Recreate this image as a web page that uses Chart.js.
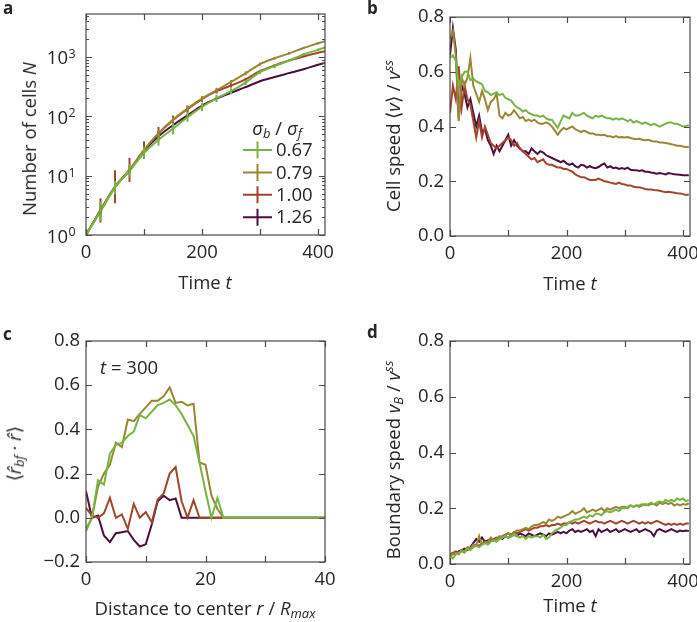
<!DOCTYPE html>
<html>
<head>
<meta charset="utf-8">
<script src="https://cdn.jsdelivr.net/npm/chart.js@4.4.1/dist/chart.umd.min.js"></script>
<style>
  html, body { margin: 0; background: #fff; overflow: hidden; }
  #fig { position: relative; width: 697px; height: 622px; overflow: hidden;
         font-family: 'Open Sans', sans-serif; color: #262626; }
  .panel { position: absolute; }
  .lbl { position: absolute; font-size: 18.5px; white-space: nowrap; line-height: 1.2;
         transform: translate(-50%, -50%); }
  .rot { transform: translate(-50%, -50%) rotate(-90deg); }
  .tag { position: absolute; font-weight: bold; font-size: 17px; line-height: 1; }
  sub, sup { font-size: 70%; line-height: 0; }
  sup { vertical-align: 0.55em; }
  sub { vertical-align: -0.25em; }
</style>
</head>
<body>
<div id="fig">
  <div class="panel" style="left:0;top:0"><canvas id="chartA" width="360" height="300"></canvas></div>
  <div class="panel" style="left:348px;top:0"><canvas id="chartB" width="370" height="300"></canvas></div>
  <div class="panel" style="left:0;top:300px"><canvas id="chartC" width="360" height="322"></canvas></div>
  <div class="panel" style="left:348px;top:300px"><canvas id="chartD" width="370" height="322"></canvas></div>

  <div class="tag" style="left:3px;top:-1px">a</div>
  <div class="tag" style="left:367px;top:-1px">b</div>
  <div class="tag" style="left:3px;top:325px">c</div>
  <div class="tag" style="left:367px;top:323px">d</div>

  <div class="lbl rot" style="left:29px;top:139px">Number of cells <i>N</i></div>
  <div class="lbl" style="left:205px;top:282px">Time <i>t</i></div>
  <div class="lbl" style="left:277px;top:128px"><i>σ<sub>b</sub></i> / <i>σ<sub>f</sub></i></div>

  <div class="lbl rot" style="left:393px;top:136px">Cell speed ⟨<i>v</i>⟩ / <i>v</i><sup><i>ss</i></sup></div>
  <div class="lbl" style="left:570px;top:283px">Time <i>t</i></div>

  <div class="lbl rot" style="left:14px;top:454px">⟨<i>r̂</i><sub><i>bf</i></sub> · <i>r̂</i>⟩</div>
  <div class="lbl" style="left:205px;top:608px">Distance to center <i>r</i> / <i>R<sub>max</sub></i></div>
  <div class="lbl" style="left:100px;top:367px;transform:translate(0,-50%)"><i>t</i> = 300</div>

  <div class="lbl rot" style="left:393px;top:460px">Boundary speed <i>v<sub>B</sub></i> / <i>v</i><sup><i>ss</i></sup></div>
  <div class="lbl" style="left:570px;top:605px">Time <i>t</i></div>
</div>

<script>
// ---- data ----
const ratioLabels = ['0.67', '0.79', '1.00', '1.26'];
const seriesColors = ['#78b443', '#9a8634', '#a3452c', '#4b0e3e'];

// panel a: number of cells
const tCells = [0, 25, 50, 75, 100, 125, 150, 175, 200, 225, 250, 275, 300, 325, 350, 375, 400, 412];
const cellsGreen  = [1, 2.5, 6.3, 12, 24, 40, 62, 97, 144, 200, 265, 370, 555, 700, 870, 1100, 1320, 1450];
const cellsOlive  = [1, 2.6, 6.5, 12.5, 27, 52, 88, 135, 200, 275, 380, 530, 760, 950, 1150, 1420, 1700, 1850];
const cellsRed    = [1, 2.6, 6.5, 12.5, 27, 51, 86, 132, 195, 265, 330, 420, 580, 720, 870, 1020, 1180, 1250];
const cellsPurple = [1, 2.6, 6.5, 12.3, 26, 46, 71, 104, 152, 200, 250, 310, 390, 460, 535, 620, 740, 790];
// relative error (bar spans v/(1+e) .. v*(1+e))
const errGreen  = [0, 0.45, 0.3, 0.3, 0.25, 0.25, 0.25, 0.2, 0.18, 0.15, 0.12, 0.1, 0.08, 0.08, 0.06, 0.06, 0.05, 0];
const errOlive  = [0, 0.3, 0.25, 0.2, 0.15, 0.12, 0.12, 0.12, 0.1, 0.1, 0.08, 0.08, 0.06, 0.05, 0.05, 0.04, 0.04, 0];
const errRed    = [0, 0.6, 0.9, 0.6, 0.4, 0.3, 0.2, 0.15, 0.12, 0.1, 0.08, 0.06, 0.05, 0.05, 0.04, 0.04, 0.03, 0];
const errPurple = [0, 0.2, 0.15, 0.1, 0.08, 0.06, 0.05, 0.04, 0.04, 0.03, 0.03, 0.03, 0.03, 0.02, 0.02, 0.02, 0.02, 0];

// panels b and d: time axis
const tSpeed = [
  0, 5, 10, 15, 20, 25, 30, 35, 40, 45,
  50, 55, 60, 65, 70, 75, 80, 85, 90, 95,
  100, 105, 110, 115, 120, 125, 130, 135, 140, 145,
  150, 155, 160, 165, 170, 175, 180, 185, 190, 195,
  200, 205, 210, 215, 220, 225, 230, 235, 240, 245,
  250, 255, 260, 265, 270, 275, 280, 285, 290, 295,
  300, 305, 310, 315, 320, 325, 330, 335, 340, 345,
  350, 355, 360, 365, 370, 375, 380, 385, 390, 395,
  400, 405, 410];

// panel b: cell speed
const speedGreen = [
  0.65, 0.66, 0.64, 0.55, 0.58, 0.60, 0.60, 0.57, 0.575, 0.565,
  0.56, 0.555, 0.53, 0.525, 0.515, 0.52, 0.525, 0.515, 0.52, 0.505,
  0.50, 0.495, 0.48, 0.47, 0.465, 0.455, 0.46, 0.45, 0.445, 0.44,
  0.44, 0.435, 0.44, 0.43, 0.425, 0.425, 0.41, 0.395, 0.42, 0.44,
  0.435, 0.43, 0.45, 0.44, 0.44, 0.445, 0.45, 0.44, 0.435, 0.43,
  0.44, 0.435, 0.44, 0.435, 0.43, 0.43, 0.425, 0.43, 0.425, 0.43,
  0.425, 0.42, 0.425, 0.415, 0.42, 0.415, 0.41, 0.415, 0.41, 0.405,
  0.41, 0.405, 0.40, 0.405, 0.41, 0.415, 0.415, 0.41, 0.41, 0.405,
  0.40, 0.402, 0.405];
const speedOlive = [
  0.72, 0.75, 0.66, 0.42, 0.58, 0.55, 0.58, 0.65, 0.55, 0.52,
  0.49, 0.53, 0.50, 0.46, 0.49, 0.50, 0.52, 0.44, 0.43, 0.45,
  0.44, 0.445, 0.46, 0.445, 0.43, 0.435, 0.42, 0.425, 0.42, 0.425,
  0.415, 0.41, 0.41, 0.415, 0.41, 0.40, 0.385, 0.37, 0.385, 0.395,
  0.39, 0.395, 0.40, 0.39, 0.385, 0.38, 0.385, 0.38, 0.375, 0.375,
  0.37, 0.37, 0.368, 0.37, 0.365, 0.365, 0.36, 0.365, 0.36, 0.362,
  0.36, 0.362, 0.358, 0.355, 0.354, 0.355, 0.352, 0.35, 0.352, 0.348,
  0.345, 0.345, 0.342, 0.342, 0.34, 0.338, 0.335, 0.333, 0.33, 0.33,
  0.327, 0.325, 0.325];
const speedRed = [
  0.45, 0.55, 0.50, 0.62, 0.47, 0.55, 0.50, 0.48, 0.42, 0.36,
  0.42, 0.36, 0.40, 0.37, 0.34, 0.33, 0.32, 0.33, 0.34, 0.35,
  0.36, 0.35, 0.33, 0.34, 0.32, 0.31, 0.30, 0.29, 0.28, 0.285,
  0.27, 0.275, 0.28, 0.265, 0.26, 0.26, 0.255, 0.25, 0.25, 0.245,
  0.245, 0.24, 0.235, 0.225, 0.22, 0.215, 0.215, 0.21, 0.205, 0.205,
  0.205, 0.21, 0.205, 0.20, 0.198, 0.195, 0.193, 0.19, 0.195, 0.19,
  0.188, 0.185, 0.185, 0.18, 0.178, 0.178, 0.175, 0.172, 0.17, 0.17,
  0.168, 0.167, 0.165, 0.163, 0.16, 0.162, 0.16, 0.158, 0.156, 0.155,
  0.153, 0.15, 0.152];
const speedPurple = [
  0.66, 0.76, 0.68, 0.43, 0.55, 0.52, 0.47, 0.50, 0.45, 0.40,
  0.44, 0.38, 0.39, 0.35, 0.33, 0.30, 0.33, 0.31, 0.33, 0.35,
  0.37, 0.33, 0.35, 0.33, 0.32, 0.31, 0.31, 0.30, 0.32, 0.31,
  0.30, 0.31, 0.305, 0.295, 0.29, 0.285, 0.28, 0.275, 0.27, 0.275,
  0.265, 0.26, 0.265, 0.255, 0.25, 0.26, 0.258, 0.25, 0.255, 0.25,
  0.248, 0.252, 0.26, 0.265, 0.25, 0.255, 0.248, 0.25, 0.245, 0.248,
  0.245, 0.25, 0.242, 0.24, 0.24, 0.238, 0.24, 0.235, 0.235, 0.232,
  0.23, 0.228, 0.23, 0.228, 0.225, 0.23, 0.228, 0.226, 0.225, 0.224,
  0.222, 0.222, 0.222];

// panel c: alignment vs distance, t = 300
const rDist = [0, 1, 2, 3, 4, 5, 6, 7, 8, 9, 10, 11, 12, 13, 14, 15, 16, 17, 18, 19, 20,
  21, 22, 23, 24, 25, 26, 27, 28, 29, 30, 31, 32, 33, 34, 35, 36, 37, 38, 39, 40];
const alignGreen = [-0.06, 0.0, 0.17, 0.15, 0.29, 0.33, 0.34, 0.37, 0.39, 0.465, 0.45,
  0.48, 0.51, 0.52, 0.535, 0.51, 0.47, 0.42, 0.37, 0.25, 0.12, 0.0, 0.09, 0.0,
  0, 0, 0, 0, 0, 0, 0, 0, 0, 0, 0, 0, 0, 0, 0, 0, 0];
const alignOlive = [-0.05, 0.0, 0.14, 0.2, 0.24, 0.34, 0.32, 0.445, 0.437, 0.47, 0.5,
  0.53, 0.53, 0.55, 0.59, 0.52, 0.525, 0.508, 0.516, 0.25, 0.24, 0.1, 0.04, 0.0,
  0, 0, 0, 0, 0, 0, 0, 0, 0, 0, 0, 0, 0, 0, 0, 0, 0];
const alignRed = [0.045, 0.01, 0.0, 0.02, 0.09, 0.0, 0.015, -0.05, 0.063, 0.0, 0.026,
  -0.02, 0.083, 0.11, 0.2, 0.23, 0.075, 0.0, 0.08, 0.0, 0,
  0, 0, 0, 0, 0, 0, 0, 0, 0, 0, 0, 0, 0, 0, 0, 0, 0, 0, 0, 0];
const alignPurple = [0.12, 0.0, 0.01, -0.08, -0.11, -0.07, -0.065, -0.06, -0.1, -0.13, -0.12,
  -0.03, 0.075, 0.1, 0.08, 0.087, 0.0, 0, 0, 0, 0,
  0, 0, 0, 0, 0, 0, 0, 0, 0, 0, 0, 0, 0, 0, 0, 0, 0, 0, 0, 0];

// panel d: boundary speed
const bndGreen = [
  0.03, 0.02, 0.035, 0.04, 0.045, 0.04, 0.055, 0.05, 0.06, 0.065,
  0.06, 0.07, 0.075, 0.07, 0.08, 0.085, 0.08, 0.09, 0.095, 0.1,
  0.095, 0.1, 0.105, 0.1, 0.095, 0.1, 0.09, 0.1, 0.095, 0.1,
  0.1, 0.095, 0.105, 0.09, 0.095, 0.11, 0.12, 0.125, 0.13, 0.14,
  0.14, 0.15, 0.155, 0.16, 0.16, 0.165, 0.17, 0.165, 0.175, 0.17,
  0.18, 0.18, 0.175, 0.185, 0.19, 0.185, 0.19, 0.195, 0.19, 0.2,
  0.2, 0.205, 0.21, 0.205, 0.21, 0.21, 0.215, 0.21, 0.215, 0.22,
  0.215, 0.22, 0.225, 0.22, 0.23, 0.225, 0.23, 0.225, 0.235, 0.23,
  0.235, 0.225, 0.23];
const bndOlive = [
  0.03, 0.035, 0.04, 0.035, 0.05, 0.045, 0.06, 0.055, 0.07, 0.065,
  0.1, 0.07, 0.075, 0.08, 0.095, 0.085, 0.09, 0.1, 0.095, 0.105,
  0.11, 0.1, 0.115, 0.12, 0.12, 0.125, 0.13, 0.125, 0.135, 0.14,
  0.14, 0.145, 0.15, 0.145, 0.16, 0.155, 0.16, 0.17, 0.165, 0.17,
  0.175, 0.18, 0.19, 0.18, 0.185, 0.19, 0.2, 0.185, 0.19, 0.195,
  0.19, 0.195, 0.2, 0.19, 0.2, 0.195, 0.2, 0.205, 0.2, 0.205,
  0.205, 0.2, 0.21, 0.205, 0.21, 0.205, 0.21, 0.215, 0.21, 0.215,
  0.215, 0.21, 0.22, 0.215, 0.22, 0.215, 0.22, 0.21, 0.215, 0.21,
  0.215, 0.213, 0.218];
const bndRed = [
  0.035, 0.04, 0.045, 0.04, 0.05, 0.045, 0.06, 0.055, 0.065, 0.07,
  0.065, 0.075, 0.08, 0.075, 0.085, 0.09, 0.095, 0.09, 0.1, 0.105,
  0.11, 0.105, 0.115, 0.11, 0.115, 0.12, 0.125, 0.12, 0.125, 0.13,
  0.13, 0.135, 0.135, 0.14, 0.135, 0.14, 0.14, 0.145, 0.14, 0.145,
  0.145, 0.15, 0.145, 0.15, 0.145, 0.15, 0.155, 0.15, 0.145, 0.15,
  0.155, 0.15, 0.15, 0.145, 0.15, 0.155, 0.15, 0.145, 0.15, 0.155,
  0.15, 0.145, 0.15, 0.155, 0.15, 0.145, 0.15, 0.145, 0.15, 0.145,
  0.15, 0.155, 0.15, 0.145, 0.14, 0.145, 0.14, 0.145, 0.14, 0.145,
  0.14, 0.145, 0.145];
const bndPurple = [
  0.03, 0.04, 0.035, 0.045, 0.05, 0.055, 0.05, 0.06, 0.075, 0.09,
  0.08, 0.095, 0.08, 0.085, 0.09, 0.085, 0.09, 0.095, 0.09, 0.1,
  0.095, 0.1, 0.105, 0.1, 0.11, 0.105, 0.1, 0.11, 0.105, 0.1,
  0.105, 0.11, 0.105, 0.1, 0.11, 0.105, 0.11, 0.115, 0.11, 0.115,
  0.11, 0.12, 0.125, 0.115, 0.12, 0.115, 0.12, 0.125, 0.115, 0.12,
  0.1, 0.125, 0.115, 0.12, 0.125, 0.115, 0.12, 0.125, 0.115, 0.12,
  0.125, 0.12, 0.115, 0.12, 0.125, 0.115, 0.12, 0.125, 0.12, 0.115,
  0.1, 0.12, 0.125, 0.12, 0.115, 0.12, 0.125, 0.12, 0.115, 0.12,
  0.118, 0.12, 0.118];

// tick values
const timeTicks = [0, 100, 200, 300, 400];
const distTicks = [0, 10, 20, 30, 40];
const speedTicks = [0, 0.2, 0.4, 0.6, 0.8];
const alignTicks = [-0.2, 0, 0.2, 0.4, 0.6, 0.8];
const decadeTicks = [1, 10, 100, 1000];

// ---- styling / helpers ----
const TEXT = '#262626';
const AXIS = '#4a4a4a';
const FONT = "'Open Sans', sans-serif";
Chart.defaults.font.family = FONT;
Chart.defaults.font.size = 18.5;
Chart.defaults.color = TEXT;

const pairs = (xs, ys) => xs.map((x, i) => ({ x: x, y: ys[i] }));

const makeDatasets = (xs, seriesList, extra) => seriesList.map((ys, i) => Object.assign({
  label: ratioLabels[i],
  data: pairs(xs, ys),
  borderColor: seriesColors[i],
  borderWidth: 2,
  pointRadius: 0,
  fill: false,
  tension: 0
}, extra ? extra(i) : {}));

// frame around the plot plus inward ticks on all four sides
const frameTicks = {
  id: 'frameTicks',
  afterDraw(chart, args, opts) {
    const { ctx, chartArea: a } = chart;
    const xs = chart.scales.x, ys = chart.scales.y;
    ctx.save();
    ctx.strokeStyle = AXIS;
    ctx.lineWidth = 1.2;
    ctx.strokeRect(a.left, a.top, a.right - a.left, a.bottom - a.top);
    ctx.beginPath();
    xs.ticks.forEach(t => {
      const px = Math.round(xs.getPixelForValue(t.value)) + 0.5;
      ctx.moveTo(px, a.bottom); ctx.lineTo(px, a.bottom - 6);
      ctx.moveTo(px, a.top); ctx.lineTo(px, a.top + 6);
    });
    ys.ticks.forEach(t => {
      const py = Math.round(ys.getPixelForValue(t.value)) + 0.5;
      ctx.moveTo(a.left, py); ctx.lineTo(a.left + 6, py);
      ctx.moveTo(a.right, py); ctx.lineTo(a.right - 6, py);
    });
    (opts.minor || []).forEach(v => {
      const py = Math.round(ys.getPixelForValue(v)) + 0.5;
      ctx.moveTo(a.left, py); ctx.lineTo(a.left + 3, py);
      ctx.moveTo(a.right, py); ctx.lineTo(a.right - 3, py);
    });
    ctx.stroke();
    ctx.restore();
  }
};

const timeAxis = (height) => ({
  type: 'linear', min: 0, max: 412,
  grid: { display: false, drawTicks: false }, border: { display: false },
  afterBuildTicks: s => { s.ticks = timeTicks.map(v => ({ value: v })); },
  afterFit: s => { s.height = height; },
  ticks: { padding: 7, autoSkip: false, maxRotation: 0,
           callback: v => (v % 200 === 0 ? String(v) : '') }
});

const linearY = (ticks, min, max, width) => ({
  type: 'linear', min: min, max: max,
  grid: { display: false, drawTicks: false }, border: { display: false },
  afterBuildTicks: s => { s.ticks = ticks.map(v => ({ value: v })); },
  afterFit: s => { s.width = width; },
  ticks: { padding: 6, callback: v => v.toFixed(1).replace('-', '\u2212') }
});

const baseOptions = (padding, scales, pluginOpts) => ({
  responsive: false,
  animation: false,
  layout: { padding: padding },
  scales: scales,
  plugins: Object.assign({ legend: { display: false }, tooltip: { enabled: false } }, pluginOpts || {})
});

// ---- panel a ----
const minorLog = [];
decadeTicks.forEach(d => { for (let m = 2; m <= 9; m++) if (m * d <= 5300) minorLog.push(m * d); });

const errorBars = {
  id: 'errorBars',
  afterDatasetsDraw(chart) {
    const { ctx, chartArea: a } = chart;
    const ys = chart.scales.y;
    ctx.save();
    ctx.beginPath();
    ctx.rect(a.left, a.top, a.right - a.left, a.bottom - a.top);
    ctx.clip();
    ctx.lineWidth = 2;
    for (let i = chart.data.datasets.length - 1; i >= 0; i--) {
      const ds = chart.data.datasets[i];
      const meta = chart.getDatasetMeta(i);
      ctx.strokeStyle = ds.borderColor;
      ds.errors.forEach((e, j) => {
        if (!e) return;
        const v = ds.data[j].y, p = meta.data[j];
        ctx.beginPath();
        ctx.moveTo(p.x, ys.getPixelForValue(v * (1 + e)));
        ctx.lineTo(p.x, ys.getPixelForValue(v / (1 + e)));
        ctx.stroke();
      });
    }
    ctx.restore();
  }
};

const logLabels = {
  id: 'logLabels',
  afterDraw(chart) {
    const { ctx } = chart;
    const ys = chart.scales.y;
    ctx.save();
    ctx.fillStyle = TEXT;
    ctx.textBaseline = 'alphabetic';
    decadeTicks.forEach((v, k) => {
      const py = ys.getPixelForValue(v);
      ctx.font = '18.5px ' + FONT;
      ctx.textAlign = 'right';
      ctx.fillText('10', 68, py + 7.5);
      ctx.font = '12.5px ' + FONT;
      ctx.textAlign = 'left';
      ctx.fillText(String(k), 68.5, py + 1);
    });
    ctx.restore();
  }
};

const legendA = {
  id: 'legendA',
  afterDraw(chart) {
    const { ctx } = chart;
    ctx.save();
    chart.data.datasets.forEach((ds, i) => {
      const yy = 150 + i * 22.4;
      ctx.strokeStyle = ds.borderColor;
      ctx.lineWidth = 2;
      ctx.beginPath();
      ctx.moveTo(243, yy); ctx.lineTo(272, yy);
      ctx.moveTo(257.5, yy - 8.5); ctx.lineTo(257.5, yy + 8.5);
      ctx.stroke();
      ctx.fillStyle = TEXT;
      ctx.font = '18.5px ' + FONT;
      ctx.textAlign = 'left';
      ctx.textBaseline = 'middle';
      ctx.fillText(ds.label, 276, yy + 1);
    });
    ctx.restore();
  }
};

const cellErrors = [errGreen, errOlive, errRed, errPurple];
new Chart(document.getElementById('chartA'), {
  type: 'line',
  data: { datasets: makeDatasets(tCells, [cellsGreen, cellsOlive, cellsRed, cellsPurple],
          i => ({ errors: cellErrors[i], cubicInterpolationMode: 'monotone' })) },
  options: baseOptions({ left: 0, top: 14, right: 35, bottom: 0 }, {
    x: timeAxis(65),
    y: {
      type: 'logarithmic', min: 1, max: 5300,
      grid: { display: false, drawTicks: false }, border: { display: false },
      afterBuildTicks: s => { s.ticks = decadeTicks.map(v => ({ value: v })); },
      afterFit: s => { s.width = 86; },
      ticks: { display: false }
    }
  }, { frameTicks: { minor: minorLog } }),
  plugins: [errorBars, frameTicks, logLabels, legendA]
});

// ---- panel b ----
new Chart(document.getElementById('chartB'), {
  type: 'line',
  data: { datasets: makeDatasets(tSpeed, [speedGreen, speedOlive, speedRed, speedPurple]) },
  options: baseOptions({ left: 0, top: 14, right: 28, bottom: 0 }, {
    x: timeAxis(64),
    y: linearY(speedTicks, 0, 0.8, 102)
  }),
  plugins: [frameTicks]
});

// ---- panel c ----
new Chart(document.getElementById('chartC'), {
  type: 'line',
  data: { datasets: makeDatasets(rDist, [alignGreen, alignOlive, alignRed, alignPurple]) },
  options: baseOptions({ left: 0, top: 41, right: 35, bottom: 0 }, {
    x: {
      type: 'linear', min: 0, max: 40,
      grid: { display: false, drawTicks: false }, border: { display: false },
      afterBuildTicks: s => { s.ticks = distTicks.map(v => ({ value: v })); },
      afterFit: s => { s.height = 60; },
      ticks: { padding: 7, autoSkip: false, maxRotation: 0,
               callback: v => (v % 20 === 0 ? String(v) : '') }
    },
    y: linearY(alignTicks, -0.2, 0.8, 86)
  }),
  plugins: [frameTicks]
});

// ---- panel d ----
new Chart(document.getElementById('chartD'), {
  type: 'line',
  data: { datasets: makeDatasets(tSpeed, [bndGreen, bndOlive, bndRed, bndPurple]) },
  options: baseOptions({ left: 0, top: 41, right: 28, bottom: 0 }, {
    x: timeAxis(58),
    y: linearY(speedTicks, 0, 0.8, 102)
  }),
  plugins: [frameTicks]
});
</script>
</body>
</html>
